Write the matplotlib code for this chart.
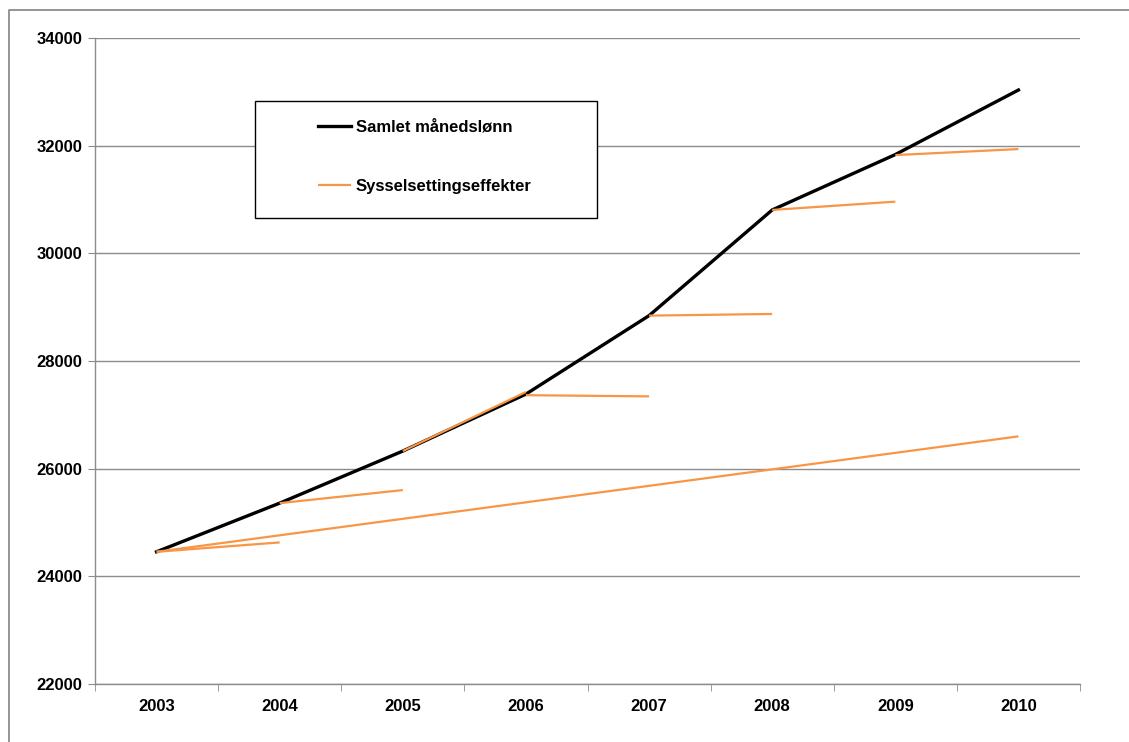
import matplotlib.pyplot as plt
from matplotlib.patches import Rectangle

plt.rcParams['font.family'] = ['Liberation Sans', 'DejaVu Sans']
plt.rcParams['font.weight'] = 'bold'

# Data
years = ['2003', '2004', '2005', '2006', '2007', '2008', '2009', '2010']
samlet = [24456, 25360, 26327, 27385, 28843, 30806, 31835, 33034]

# Sysselsettingseffekter: one segment each, (from year index, to year index)
eff_from = [0, 0, 1, 2, 3, 4, 5, 6]
eff_to = [1, 7, 2, 3, 4, 5, 6, 7]
eff_start = [24456, 24456, 25360, 26327, 27365, 28843, 30806, 31825]
eff_end = [24630, 26600, 25602, 27425, 27343, 28874, 30960, 31937]

orange = '#F79646'
grid_col = '#8c8c8c'
W, H = 1129, 742

fig = plt.figure(figsize=(W / 100, H / 100), dpi=100)
ax = fig.add_axes([95 / W, 1 - 684 / H, (1080 - 95) / W, (684 - 38) / H])

# outer frame of the chart area (only left and top edges are inside the picture)
fig.add_artist(plt.Line2D([8.5 / W, 8.5 / W, 1.0], [0, 1 - 9.5 / H, 1 - 9.5 / H],
                          transform=fig.transFigure, color=grid_col, linewidth=1.3))

x = list(range(len(years)))

# Employment effect segments
for i in range(len(eff_from)):
    ax.plot([eff_from[i], eff_to[i]], [eff_start[i], eff_end[i]], color=orange,
            linewidth=1.6, solid_capstyle='butt', zorder=3,
            label='Sysselsettingseffekter' if i == 0 else None)

# Total monthly wage
ax.plot(x, samlet, color='black', linewidth=2.4, zorder=2, label='Samlet månedslønn')

ax.set_xlim(-0.5, 7.5)
ax.set_ylim(22000, 34000)
ax.set_yticks(range(22000, 34001, 2000))
ax.set_xticks(x)
ax.set_xticklabels(years)
ax.set_xticks([i + 0.5 for i in range(-1, 8)], minor=True)
ax.tick_params(axis='x', which='major', length=0, pad=11, labelsize=12)
ax.tick_params(axis='x', which='minor', length=5, color=grid_col, direction='out')
ax.tick_params(axis='y', length=5, color=grid_col, labelsize=12, pad=4)

ax.grid(axis='y', color=grid_col, linewidth=1)
ax.set_axisbelow(True)
for s in ['top', 'right']:
    ax.spines[s].set_visible(False)
for s in ['left', 'bottom']:
    ax.spines[s].set_color(grid_col)
    ax.spines[s].set_linewidth(1)

# legend box drawn separately, entries placed inside it
fig.add_artist(Rectangle((255 / W, 1 - 218 / H), (597 - 255) / W, (218 - 101) / H,
                         transform=fig.transFigure, facecolor='white',
                         edgecolor='black', linewidth=1, zorder=5))
handles, labels = ax.get_legend_handles_labels()
leg = fig.legend(handles[::-1], labels[::-1], loc='upper left',
                 bbox_to_anchor=(318 / W, 1 - 120 / H),
                 frameon=False, fontsize=12, handlelength=2.0, handletextpad=0.25,
                 labelspacing=2.65, borderpad=0, borderaxespad=0)
leg.set_zorder(6)
for t in leg.get_texts():
    t.set_fontweight('bold')

fig.savefig('out.png', dpi=100)
